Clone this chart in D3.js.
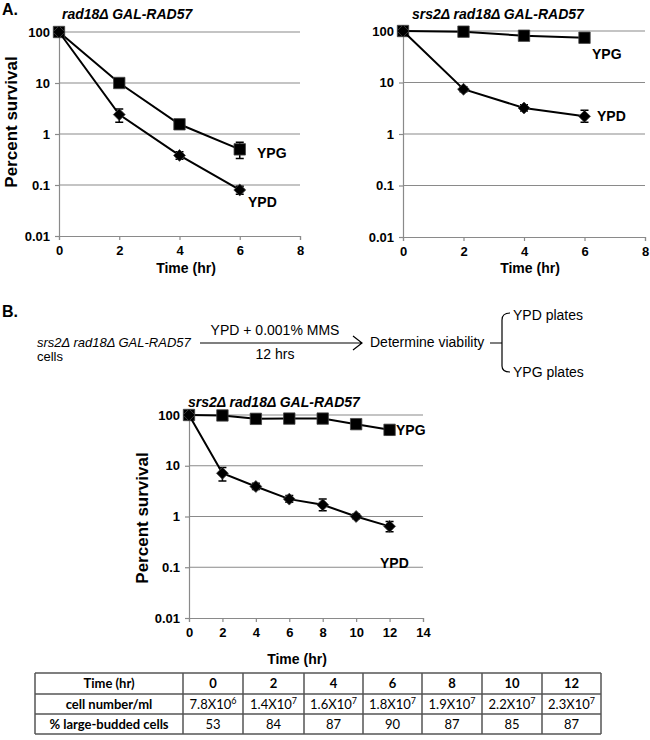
<!DOCTYPE html>
<html><head><meta charset="utf-8">
<script src="https://cdn.jsdelivr.net/npm/d3@7"></script>
<style>body{margin:0;background:#fff}svg{display:block}</style>
</head><body>
<svg id="c" width="650" height="740"></svg>
<script>
// ---------- data ----------
const yTicks = [0.01, 0.1, 1, 10, 100];
const yTickLabels = ["0.01", "0.1", "1", "10", "100"];

const timesA = [0, 2, 4, 6];
const xTicksA = [0, 2, 4, 6, 8];
// Panel A left: rad18Δ GAL-RAD57
const aLeftYPG   = [100, 10, 1.55, 0.5];
const aLeftYPGLo = [100, 10, 1.55, 0.33];
const aLeftYPGHi = [100, 10, 1.55, 0.69];
const aLeftYPD   = [100, 2.4, 0.38, 0.08];
const aLeftYPDLo = [100, 1.7, 0.32, 0.066];
const aLeftYPDHi = [100, 3.1, 0.45, 0.095];
// Panel A right: srs2Δ rad18Δ GAL-RAD57
const aRightYPG   = [100, 97, 81, 74];
const aRightYPGLo = [100, 97, 81, 74];
const aRightYPGHi = [100, 97, 81, 74];
const aRightYPD   = [100, 7.4, 3.2, 2.2];
const aRightYPDLo = [100, 6.6, 2.8, 1.7];
const aRightYPDHi = [100, 8.3, 3.7, 2.9];

const timesB = [0, 2, 4, 6, 8, 10, 12];
const xTicksB = [0, 2, 4, 6, 8, 10, 12, 14];
const bYPG   = [100, 98, 84, 85, 85, 66, 51];
const bYPGLo = [100, 98, 84, 85, 85, 61, 41];
const bYPGHi = [100, 98, 84, 85, 85, 71, 60];
const bYPD   = [100, 7.1, 3.9, 2.2, 1.7, 1.0, 0.64];
const bYPDLo = [100, 5.0, 3.4, 1.9, 1.3, 0.9, 0.5];
const bYPDHi = [100, 9.2, 4.5, 2.6, 2.2, 1.12, 0.8];

// Table
const tableRowLabels = ["Time (hr)", "cell number/ml", "% large-budded cells"];
const tableTimes = ["0", "2", "4", "6", "8", "10", "12"];
const cellMantissa = ["7.8", "1.4", "1.6", "1.8", "1.9", "2.2", "2.3"];
const cellExponent = ["6", "7", "7", "7", "7", "7", "7"];
const buddedPct = ["53", "84", "87", "90", "87", "85", "87"];

// ---------- drawing ----------
const svg = d3.select("#c");
const AX = "#8a8a8a";
const FONT = "'Liberation Sans', Arial, sans-serif";

function chart(cfg) {
  const g = svg.append("g");
  const x = d3.scaleLinear().domain([0, cfg.xMax]).range([cfg.x0, cfg.x1]);
  const y = d3.scaleLog().domain([0.01, 100]).range([cfg.y0, cfg.y1]);

  // grid
  g.selectAll("line.grid").data(yTicks.slice(1)).join("line")
    .attr("x1", cfg.x0).attr("x2", cfg.x1)
    .attr("y1", d => y(d)).attr("y2", d => y(d))
    .attr("stroke", AX).attr("stroke-width", 1.2);

  const ya = g.append("g").attr("transform", `translate(${cfg.x0},0)`)
    .call(d3.axisLeft(y).tickValues(yTicks).tickSize(4).tickPadding(5)
      .tickFormat((d, i) => yTickLabels[i]));
  const xa = g.append("g").attr("transform", `translate(0,${cfg.y0})`)
    .call(d3.axisBottom(x).tickValues(cfg.xTicks).tickSize(4).tickPadding(6).tickSizeOuter(4));
  [ya, xa].forEach(a => {
    a.selectAll("path,line").attr("stroke", AX).attr("stroke-width", 1.2);
    a.selectAll("text").attr("fill", "#000").style("font-family", FONT)
      .style("font-weight", "bold").style("font-size", "13px");
  });

  // series
  cfg.series.forEach(s => {
    const pts = cfg.times.map((t, i) => ({t, v: s.v[i], lo: s.lo[i], hi: s.hi[i]}));
    g.append("path").datum(pts)
      .attr("d", d3.line().x(d => x(d.t)).y(d => y(d.v)))
      .attr("fill", "none").attr("stroke", "#000").attr("stroke-width", 2);
    const eb = pts.filter(d => d.hi !== d.lo);
    g.selectAll(null).data(eb).join("path")
      .attr("d", d => `M${x(d.t)},${y(d.hi)}V${y(d.lo)}M${x(d.t)-4},${y(d.hi)}H${x(d.t)+4}M${x(d.t)-4},${y(d.lo)}H${x(d.t)+4}`)
      .attr("stroke", "#000").attr("stroke-width", 1.5).attr("fill", "none");
    const sym = d3.symbol().type(s.shape === "square" ? d3.symbolSquare : d3.symbolDiamond2)
      .size(s.shape === "square" ? 130 : 90);
    g.selectAll(null).data(pts).join("path")
      .attr("transform", d => `translate(${x(d.t)},${y(d.v)})`)
      .attr("d", sym).attr("fill", "#000").attr("stroke", "#444").attr("stroke-width", 0.8);
    g.append("text").attr("x", s.lx).attr("y", s.ly).text(s.name)
      .style("font-family", FONT).style("font-weight", "bold").style("font-size", "14px");
  });

  // title
  g.append("text").attr("x", cfg.tx).attr("y", cfg.ty).text(cfg.title)
    .style("font-family", FONT).style("font-weight", "bold").style("font-style", "italic").style("font-size", "14px");
  // x label
  g.append("text").attr("x", cfg.xlx).attr("y", cfg.xly).attr("text-anchor", "middle").text("Time (hr)")
    .style("font-family", FONT).style("font-weight", "bold").style("font-size", "14px");
  // y label
  if (cfg.ylx !== undefined) {
    g.append("text").attr("transform", `translate(${cfg.ylx},${cfg.yly}) rotate(-90)`)
      .attr("text-anchor", "middle").text("Percent survival")
      .style("font-family", FONT).style("font-weight", "bold").style("font-size", "17px");
  }
}

chart({x0: 59, x1: 300, y0: 236, y1: 32, xMax: 8, xTicks: xTicksA, times: timesA,
  title: "rad18Δ GAL-RAD57", tx: 62, ty: 19, xlx: 186, xly: 273, ylx: 17, yly: 122,
  series: [
    {name: "YPG", shape: "square", v: aLeftYPG, lo: aLeftYPGLo, hi: aLeftYPGHi, lx: 257, ly: 158},
    {name: "YPD", shape: "diamond", v: aLeftYPD, lo: aLeftYPDLo, hi: aLeftYPDHi, lx: 248, ly: 207}
  ]});

chart({x0: 403, x1: 645, y0: 237, y1: 31, xMax: 8, xTicks: xTicksA, times: timesA,
  title: "srs2Δ rad18Δ GAL-RAD57", tx: 412, ty: 19, xlx: 530, xly: 273,
  series: [
    {name: "YPG", shape: "square", v: aRightYPG, lo: aRightYPGLo, hi: aRightYPGHi, lx: 592, ly: 59},
    {name: "YPD", shape: "diamond", v: aRightYPD, lo: aRightYPDLo, hi: aRightYPDHi, lx: 597, ly: 121}
  ]});

chart({x0: 189, x1: 423, y0: 618, y1: 415, xMax: 14, xTicks: xTicksB, times: timesB,
  title: "srs2Δ rad18Δ GAL-RAD57", tx: 188, ty: 407, xlx: 297, xly: 664, ylx: 148, yly: 518,
  series: [
    {name: "YPG", shape: "square", v: bYPG, lo: bYPGLo, hi: bYPGHi, lx: 396, ly: 435},
    {name: "YPD", shape: "diamond", v: bYPD, lo: bYPDLo, hi: bYPDHi, lx: 380, ly: 568}
  ]});

// panel letters
[["A.", 2, 15], ["B.", 2, 317]].forEach(([t, x, y]) =>
  svg.append("text").attr("x", x).attr("y", y).text(t)
    .style("font-family", FONT).style("font-weight", "bold").style("font-size", "16px"));

// scheme in B
const sch = svg.append("g").style("font-family", FONT).style("font-size", "14px");
sch.append("text").attr("x", 37).attr("y", 347).style("font-style", "italic").style("font-size", "13px")
  .text("srs2Δ rad18Δ GAL-RAD57");
sch.append("text").attr("x", 37).attr("y", 361).style("font-size", "13px").text("cells");
sch.append("path").attr("d", "M200,343H362M353,336L362,343L353,350")
  .attr("fill", "none").attr("stroke", "#000").attr("stroke-width", 1.2);
sch.append("text").attr("x", 275).attr("y", 335).attr("text-anchor", "middle").text("YPD + 0.001% MMS");
sch.append("text").attr("x", 275).attr("y", 359).attr("text-anchor", "middle").text("12 hrs");
sch.append("text").attr("x", 370).attr("y", 347).text("Determine viability");
sch.append("path").attr("d", "M490,343H502M510,313Q502,313 502,320V366Q502,372 510,372")
  .attr("fill", "none").attr("stroke", "#000").attr("stroke-width", 1.2);
sch.append("text").attr("x", 513).attr("y", 320).text("YPD plates");
sch.append("text").attr("x", 513).attr("y", 377).text("YPG plates");

// table
const colX = [35, 183, 243, 304, 363, 422, 482, 542, 601];
const rowY = [673, 694, 714, 734];
const tg = svg.append("g").style("font-family", "Lato, 'Open Sans', sans-serif").style("font-size", "13px");
rowY.forEach(yy => tg.append("line").attr("x1", colX[0]).attr("x2", colX[8]).attr("y1", yy).attr("y2", yy)
  .attr("stroke", "#555").attr("stroke-width", 1.5));
colX.forEach(xx => tg.append("line").attr("x1", xx).attr("x2", xx).attr("y1", rowY[0]).attr("y2", rowY[3])
  .attr("stroke", "#555").attr("stroke-width", 1.5));
const cx = i => (colX[i] + colX[i + 1]) / 2;
const cy = r => (rowY[r] + rowY[r + 1]) / 2 + 4.5;
tableRowLabels.forEach((t, r) => tg.append("text").attr("x", cx(0)).attr("y", cy(r))
  .attr("text-anchor", "middle").style("font-weight", "bold").text(t));
tableTimes.forEach((t, i) => tg.append("text").attr("x", cx(i + 1)).attr("y", cy(0))
  .attr("text-anchor", "middle").style("font-weight", "bold").text(t));
cellMantissa.forEach((m, i) => {
  const t = tg.append("text").attr("x", cx(i + 1)).attr("y", cy(1)).attr("text-anchor", "middle");
  t.append("tspan").text(m + "X10");
  t.append("tspan").attr("dy", -5).style("font-size", "9px").text(cellExponent[i]);
});
buddedPct.forEach((p, i) => tg.append("text").attr("x", cx(i + 1)).attr("y", cy(2))
  .attr("text-anchor", "middle").text(p));
</script>
</body></html>
